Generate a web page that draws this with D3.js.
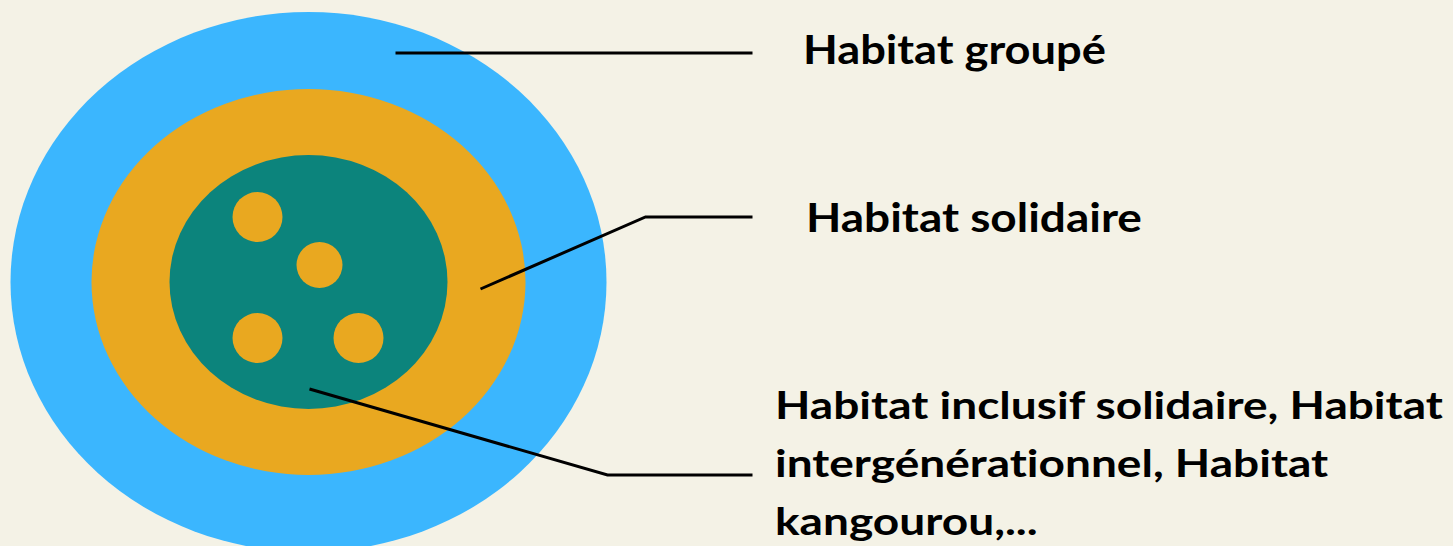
<!DOCTYPE html>
<html>
  <head>
    <meta charset="utf-8">
    <title>Habitat</title>
    <script src="https://d3js.org/d3.v7.min.js"></script>
    <style>
      body { margin: 0; background: #f4f2e6; }
      text { font-family: Lato, "Open Sans", sans-serif; font-weight: bold; fill: #000;
             font-variant-ligatures: none; font-feature-settings: "liga" 0, "dlig" 0; }
    </style>
  </head>
  <body>
    <script>
      var width = 1453;
      var height = 546;

      // rings, outer to inner: horizontal and vertical radius
      var ringNames = ["groupe", "solidaire", "inclusif"];
      var ringRx = [298, 217, 139];
      var ringRy = [270, 193, 127];
      var ringColors = ["#3bb6fe", "#e9a820", "#0c847c"];

      // small dots inside the inner ring (offset from the centre)
      var dotDx = [-51, 11, -51, 50];
      var dotDy = [-65, -17, 56, 56];
      var dotR = [25, 23, 25, 25];

      // labels
      var labels = [
        ["Habitat groupé"],
        ["Habitat solidaire"],
        ["Habitat inclusif solidaire, Habitat", "intergénérationnel, Habitat", "kangourou,..."]
      ];
      // leader line points relative to the centre, then to the label
      var leaderPts = [
        [[87, -229], [444, -229]],
        [[172, 7], [337, -65], [444, -65]],
        [[1, 107], [299, 193], [444, 193]]
      ];
      var labelX = [803, 806, 775];
      var labelY = [64, 232, 419];
      var labelWidth = [303, 336, 668];
      var labelSize = [41, 41, 39];

      var cx = 308.5, cy = 282;
      var x = d3.scaleLinear().domain([-1, 1]).range([cx - 1, cx + 1]);
      var y = d3.scaleLinear().domain([-1, 1]).range([cy - 1, cy + 1]);

      var svg = d3.select("body")
        .append("svg")
          .attr("width", width)
          .attr("height", height);

      svg.append("rect")
          .attr("width", width)
          .attr("height", height)
          .attr("fill", "#f4f2e6");

      svg.selectAll("ellipse.ring")
        .data(ringNames)
        .enter()
        .append("ellipse")
          .classed("ring", true)
          .attr("cx", x(0))
          .attr("cy", y(0))
          .attr("rx", function(d, i) { return ringRx[i]; })
          .attr("ry", function(d, i) { return ringRy[i]; })
          .attr("fill", function(d, i) { return ringColors[i]; });

      svg.selectAll("circle.dot")
        .data(dotDx)
        .enter()
        .append("circle")
          .classed("dot", true)
          .attr("cx", function(d) { return x(d); })
          .attr("cy", function(d, i) { return y(dotDy[i]); })
          .attr("r", function(d, i) { return dotR[i]; })
          .attr("fill", ringColors[1]);

      var line = d3.line()
          .x(function(p) { return x(p[0]); })
          .y(function(p) { return y(p[1]); });

      svg.selectAll("path.leader")
        .data(leaderPts)
        .enter()
        .append("path")
          .classed("leader", true)
          .attr("d", line)
          .attr("fill", "none")
          .attr("stroke", "#000")
          .attr("stroke-width", 3);

      labels.forEach(function(lines, i) {
        var g = svg.append("g");
        var t = g.append("text")
            .attr("x", 0)
            .attr("y", 0)
            .style("font-size", labelSize[i] + "px");
        lines.forEach(function(s, j) {
          t.append("tspan")
              .attr("x", 0)
              .attr("dy", j === 0 ? 0 : 58)
              .text(s);
        });
        // squeeze horizontally so the first line matches the measured width
        var w = t.select("tspan").node().getComputedTextLength();
        g.attr("transform", "translate(" + labelX[i] + "," + labelY[i] + ") scale(" + (labelWidth[i] / w) + ",1)");
      });
    </script>
  </body>
</html>
